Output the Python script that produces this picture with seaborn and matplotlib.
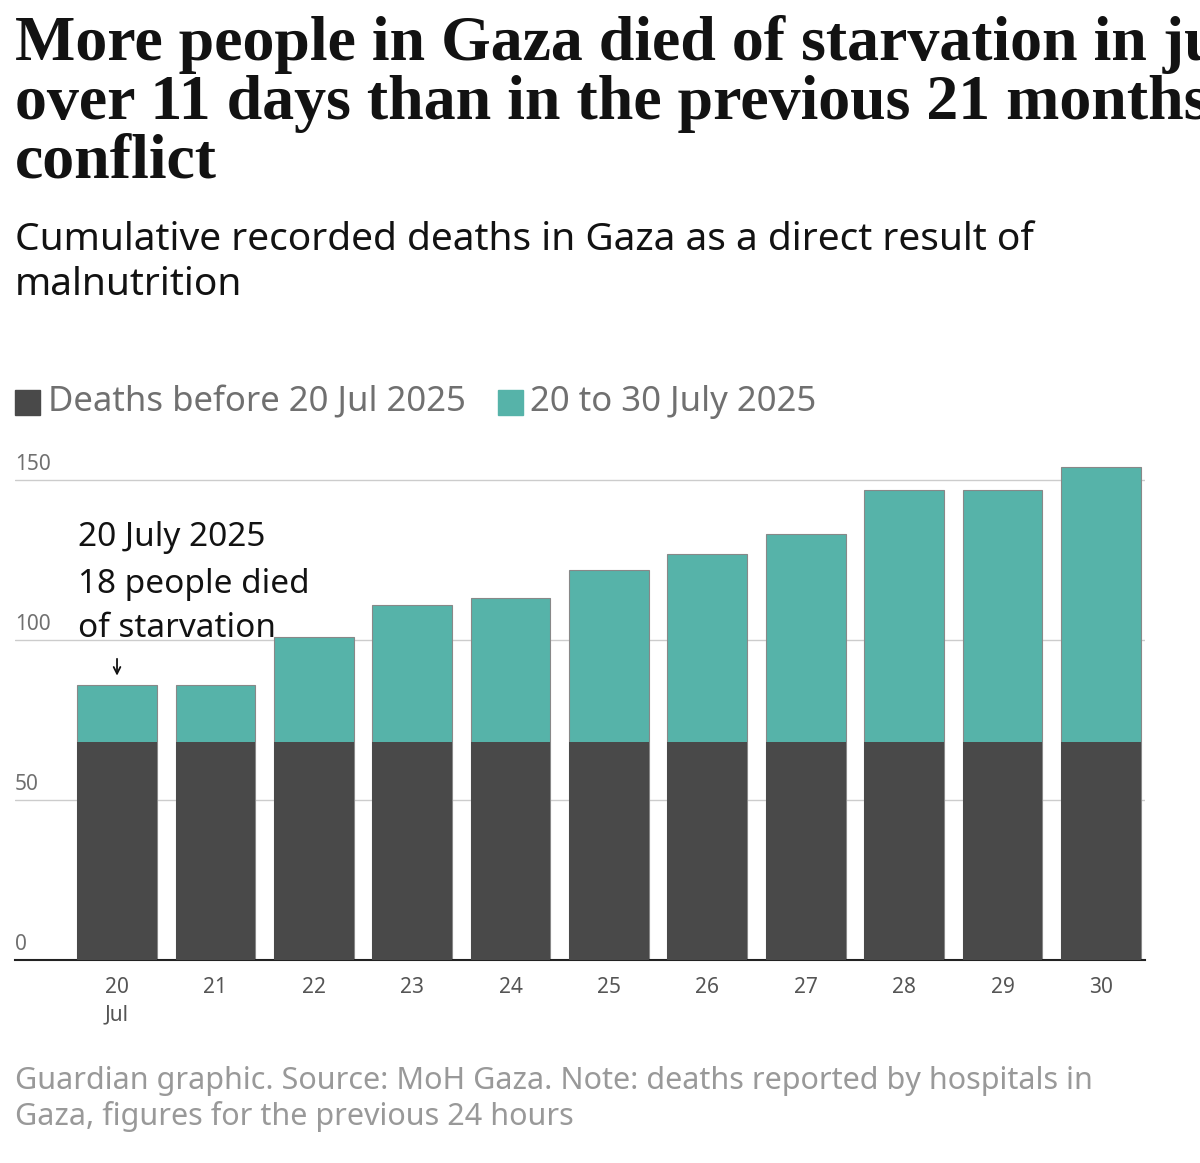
import matplotlib
matplotlib.use("Agg")
import matplotlib.pyplot as plt
import seaborn as sns
import pandas as pd

days = ["20", "21", "22", "23", "24", "25", "26", "27", "28", "29", "30"]
before = [68, 68, 68, 68, 68, 68, 68, 68, 68, 68, 68]
total = [86, 86, 101, 111, 113, 122, 127, 133, 147, 147, 154]
yticks = [0, 50, 100, 150]

sns.set_theme(style="white")
plt.rcParams['font.family'] = ['Noto Sans', 'DejaVu Sans']

df = pd.DataFrame({"day": days, "before": before, "total": total})
fig = plt.figure(figsize=(12, 11.63), dpi=100)
ax = fig.add_axes([0.0125, 0.1745, 0.9415, 0.4265])

DARK = "#494949"
TEAL = "#56b3a9"
sns.barplot(data=df, x="day", y="total", color=TEAL, width=0.81, ax=ax,
            saturation=1, edgecolor="#888888", linewidth=0.8, zorder=2)
sns.barplot(data=df, x="day", y="before", color=DARK, width=0.81, ax=ax,
            saturation=1, linewidth=0, zorder=3)

ax.set_xlim(-1.037, 10.447)
ax.set_ylim(0, 155)
ax.set_yticks(yticks)
ax.set_yticklabels([])
for t in yticks[1:]:
    ax.axhline(t, color="#cccccc", lw=1, zorder=1)
for t in yticks:
    ax.text(-1.037, t + 1.5, str(t), fontsize=15, color="#707070", va="bottom", ha="left")
for s in ["top", "right", "left"]:
    ax.spines[s].set_visible(False)
ax.spines["bottom"].set_color("#222222")
ax.spines["bottom"].set_linewidth(1.5)
ax.set_xlabel(""); ax.set_ylabel("")
ax.tick_params(axis="x", colors="#555555", labelsize=15, length=6, color="#555555", pad=6)
ax.set_xticks(range(len(days)))
ax.set_xticklabels([d + "\nJul" if i == 0 else d for i, d in enumerate(days)], linespacing=1.4)

ax.text(-0.4, 132, "20 July 2025", fontsize=24, color="#121212", va="center")
ax.text(-0.4, 117.5, "18 people died", fontsize=24, color="#121212", va="center")
ax.text(-0.4, 103.5, "of starvation", fontsize=24, color="#121212", va="center")
ax.annotate("", xy=(0, 88), xytext=(0, 95),
            arrowprops=dict(arrowstyle="->", color="#121212", lw=1.3))

fig.text(0.0125, 0.987, "More people in Gaza died of starvation in just\nover 11 days than in the previous 21 months of\nconflict",
         fontsize=46, fontweight="bold", family=["Liberation Serif", "DejaVu Serif"], va="top",
         color="#121212", linespacing=1.0)
fig.text(0.0125, 0.81, "Cumulative recorded deaths in Gaza as a direct result of\nmalnutrition",
         fontsize=28, va="top", color="#121212", linespacing=1.25)

fig.patches.append(matplotlib.patches.Rectangle((0.0125, 0.643), 0.021, 0.0215, transform=fig.transFigure, color=DARK))
fig.text(0.04, 0.654, "Deaths before 20 Jul 2025", fontsize=25, color="#707070", va="center")
fig.patches.append(matplotlib.patches.Rectangle((0.415, 0.643), 0.021, 0.0215, transform=fig.transFigure, color=TEAL))
fig.text(0.442, 0.654, "20 to 30 July 2025", fontsize=25, color="#707070", va="center")

fig.text(0.0125, 0.083, "Guardian graphic. Source: MoH Gaza. Note: deaths reported by hospitals in\nGaza, figures for the previous 24 hours",
         fontsize=22, color="#999999", va="top", linespacing=1.2)

fig.savefig("out.png", dpi=100, facecolor="white")
